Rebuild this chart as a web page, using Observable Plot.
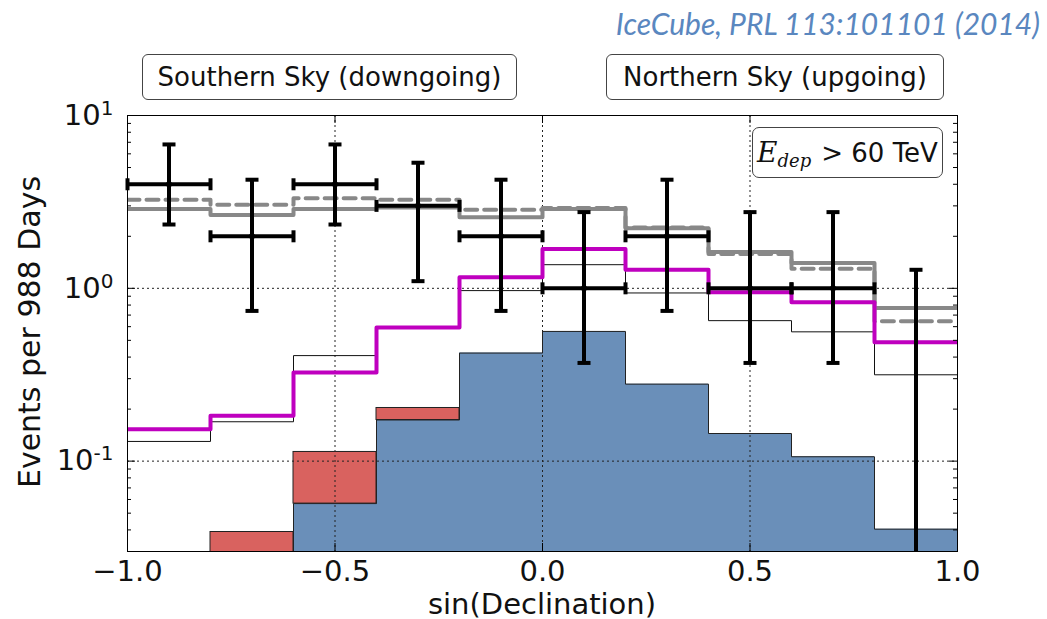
<!DOCTYPE html>
<html><head><meta charset="utf-8">
<script src="https://cdn.jsdelivr.net/npm/d3@7"></script>
<script src="https://cdn.jsdelivr.net/npm/@observablehq/plot@0.6"></script>
<style>
body{margin:0;background:#fff;}
#wrap{position:relative;width:1047px;height:619px;font-family:"DejaVu Sans",sans-serif;color:#111;}
#wrap svg{position:absolute;left:0;top:0;}
.box{position:absolute;border:1.5px solid #444;border-radius:6px;background:#fff;font-size:26px;display:flex;align-items:center;justify-content:center;box-sizing:border-box;white-space:nowrap;}
.lbl{position:absolute;font-size:30px;white-space:nowrap;}
</style></head><body><div id="wrap"></div>
<script>
// bins in sin(Declination)
const binLo = [-1.0,-0.8,-0.6,-0.4,-0.2,0.0,0.2,0.4,0.6,0.8];
const binHi = [-0.8,-0.6,-0.4,-0.2,0.0,0.2,0.4,0.6,0.8,1.0];
// observed events and error bar limits
const dataCounts = [4,2,4,3,2,1,2,1,1,0];
const dataUpper  = [6.8,4.25,6.8,5.33,4.25,2.76,4.25,2.76,2.76,1.28];
const dataLower  = [2.34,0.74,2.34,1.10,0.74,0.37,0.74,0.37,0.37,null];
// model expectations
const totalBestFit  = [2.88,2.66,2.88,2.94,2.58,2.88,2.23,1.62,1.40,0.77];
const totalE2       = [3.26,3.04,3.32,3.26,2.85,2.92,2.25,1.58,1.30,0.644];
const astroBestFit  = [0.153,0.183,0.326,0.594,1.16,1.69,1.28,0.95,0.83,0.487];
const astroE2       = [0.13,0.169,0.408,0.60,0.97,1.37,0.94,0.65,0.56,0.316];
const atmNu         = [null,null,0.0568,0.173,0.422,0.563,0.279,0.1445,0.106,0.0404];
const atmMuTop      = [null,0.0389,0.113,0.203,null,null,null,null,null,null];
// axes
const xMajor = [-1.0,-0.5,0.0,0.5,1.0];
const xTickLabels = ["−1.0","−0.5","0.0","0.5","1.0"];
const xGrid = [-0.5,0.0,0.5];
const yMajor = [0.1,1,10];
const yTickBase = "10";
const yTickExp = ["-1","0","1"];
const yGrid = [0.1,1];
const yMinor = [0.03,0.04,0.05,0.06,0.07,0.08,0.09,0.2,0.3,0.4,0.5,0.6,0.7,0.8,0.9,2,3,4,5,6,7,8,9];
const FLOOR = 0.001;

const idx = d3.range(binLo.length);
const centers = idx.map(i => (binLo[i] + binHi[i]) / 2);
function steps(vals, startAtFloor){
  const pts = [];
  vals.forEach((v,i) => {
    if (v == null) return;
    if (startAtFloor && pts.length === 0) pts.push({x: binLo[i], y: FLOOR});
    pts.push({x: binLo[i], y: v}, {x: binHi[i], y: v});
  });
  return pts;
}
const hCap = {draw(ctx, size){ const r = Math.sqrt(size/Math.PI); ctx.moveTo(-r,0); ctx.lineTo(r,0); }};
const vCap = {draw(ctx, size){ const r = Math.sqrt(size/Math.PI); ctx.moveTo(0,-r); ctx.lineTo(0,r); }};

const W = 1047, H = 619, ML = 127, MR = 90, MT = 115, MB = 68;
const FW = W - ML - MR, FH = H - MT - MB;
const pts = idx.filter(i => dataCounts[i] > 0);

const chart = Plot.plot({
  width: W, height: H, marginLeft: ML, marginRight: MR, marginTop: MT, marginBottom: MB,
  x: {domain: [-1, 1]},
  y: {type: "log", domain: [0.03, 10]},
  style: {fontFamily: "DejaVu Sans", background: "transparent", color: "#111"},
  marks: [
    Plot.areaY(steps(atmNu, true), {x: "x", y1: () => FLOOR, y2: "y", fill: "#6a8fb9", clip: true}),
    Plot.lineY(steps(atmNu, true), {x: "x", y: "y", stroke: "#222", strokeWidth: 1, clip: true}),
    Plot.rect(idx.filter(i => atmMuTop[i] != null), {x1: i => binLo[i], x2: i => binHi[i], y1: i => atmNu[i] ?? FLOOR, y2: i => atmMuTop[i], fill: "#d9625f", stroke: "#222", strokeWidth: 1, clip: true}),
    Plot.ruleX(xGrid, {x: d => d, stroke: "#222", strokeWidth: 1, strokeDasharray: "2,3"}),
    Plot.ruleY(yGrid, {y: d => d, stroke: "#222", strokeWidth: 1, strokeDasharray: "2,3"}),
    Plot.lineY(steps(astroE2), {x: "x", y: "y", stroke: "#111", strokeWidth: 1, clip: true}),
    Plot.lineY(steps(totalBestFit), {x: "x", y: "y", stroke: "#888", strokeWidth: 4, clip: true}),
    Plot.lineY(steps(totalE2), {x: "x", y: "y", stroke: "#888", strokeWidth: 4, strokeDasharray: "12,7", clip: true}),
    Plot.lineY(steps(astroBestFit), {x: "x", y: "y", stroke: "#bf00bf", strokeWidth: 4, clip: true}),
    // error bars
    Plot.ruleX(idx, {x: i => centers[i], y1: i => dataLower[i] ?? FLOOR, y2: i => dataUpper[i], stroke: "black", strokeWidth: 4, clip: true}),
    Plot.ruleY(pts, {y: i => dataCounts[i], x1: i => binLo[i], x2: i => binHi[i], stroke: "black", strokeWidth: 4}),
    Plot.dot(idx, {x: i => centers[i], y: i => dataUpper[i], symbol: hCap, r: 6.5, fill: "none", stroke: "black", strokeWidth: 4}),
    Plot.dot(idx.filter(i => dataLower[i] != null), {x: i => centers[i], y: i => dataLower[i], symbol: hCap, r: 6.5, fill: "none", stroke: "black", strokeWidth: 4}),
    Plot.dot(pts, {x: i => binLo[i], y: i => dataCounts[i], symbol: vCap, r: 6, fill: "none", stroke: "black", strokeWidth: 4}),
    Plot.dot(pts, {x: i => binHi[i], y: i => dataCounts[i], symbol: vCap, r: 6, fill: "none", stroke: "black", strokeWidth: 4}),
    Plot.dot(pts, {x: i => centers[i], y: i => dataCounts[i], r: 3, fill: "black"}),
    // ticks
    Plot.tickY(yMinor, {y: d => d, insetRight: FW - 4, stroke: "black"}),
    Plot.tickY(yMinor, {y: d => d, insetLeft: FW - 4, stroke: "black"}),
    Plot.tickY(yMajor, {y: d => d, insetRight: FW - 8, stroke: "black"}),
    Plot.tickY(yMajor, {y: d => d, insetLeft: FW - 8, stroke: "black"}),
    Plot.tickX(xMajor, {x: d => d, insetTop: FH - 8, stroke: "black"}),
    Plot.tickX(xMajor, {x: d => d, insetBottom: FH - 8, stroke: "black"}),
    Plot.frame({stroke: "black", strokeWidth: 1}),
    Plot.axisX({ticks: xMajor, tickFormat: d => xTickLabels[xMajor.indexOf(d)], tickSize: 0, tickPadding: 9, fontSize: 29, label: null}),
    Plot.axisY({ticks: yMajor, tickFormat: d => yTickBase + yTickExp[yMajor.indexOf(d)], tickSize: 0, tickPadding: 14, fontSize: 29, label: null})
  ]
});
// render exponents as superscripts
d3.select(chart).selectAll('g[aria-label="y-axis tick label"] text').each(function(){
  const t = this.textContent;
  if (!t.startsWith(yTickBase)) return;
  const exp = t.slice(yTickBase.length);
  this.textContent = yTickBase;
  d3.select(this).append("tspan").attr("dy", "-0.5em").attr("font-size", 20).text(exp);
});
const wrap = document.getElementById("wrap");
wrap.appendChild(chart);

function addDiv(cls, html, css){
  const d = document.createElement("div");
  d.className = cls; d.innerHTML = html;
  Object.assign(d.style, css);
  wrap.appendChild(d);
  return d;
}
addDiv("box", "Southern Sky (downgoing)", {left: "142px", top: "54px", width: "375px", height: "46px"});
addDiv("box", "Northern Sky (upgoing)", {left: "606px", top: "54px", width: "338px", height: "46px"});
addDiv("box", '<span style="font-family:\'DejaVu Serif\';font-style:italic;font-size:28px">E</span><span style="font-family:\'DejaVu Serif\';font-style:italic;font-size:18px;position:relative;top:8px;margin-right:10px">dep</span>&gt; 60 TeV',
  {left: "752px", top: "127px", width: "191px", height: "51px", borderRadius: "7px"});
addDiv("lbl", "IceCube, PRL 113:101101 (2014)", {right: "7px", top: "5px", fontFamily: "Lato", fontStyle: "italic", fontSize: "30px", color: "#5a87bf"});
addDiv("lbl", "sin(Declination)", {left: "542px", top: "589px", transform: "translateX(-50%)", lineHeight: "30px", fontSize: "29px"});
addDiv("lbl", "Events per 988 Days", {left: "30px", top: "332px", transform: "translate(-50%,-50%) rotate(-90deg)", lineHeight: "34px"});
</script></body></html>
